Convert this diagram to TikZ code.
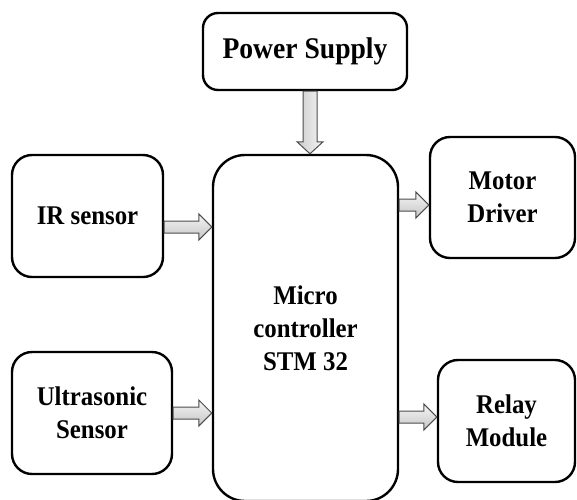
\documentclass[tikz,border=0pt]{standalone}
\usepackage{fontspec}
\setmainfont{Liberation Serif}[FakeStretch=0.92]
\usetikzlibrary{calc}
\tikzset{
  blk/.style={draw=black, line width=2.4pt, rounded corners=20pt, align=center,
    font=\bfseries\fontsize{27}{33}\selectfont, inner sep=0pt, fill=white},
  barrowstyle/.style={draw=gray!60!black, line width=1pt, line join=miter},
  hshade/.style={top color=gray!8, bottom color=gray!45},
  vshade/.style={left color=gray!40, right color=gray!8},
}
% horizontal block arrow from #1 to #2 (same y)
\newcommand{\harrow}[2]{%
  \path[barrowstyle,hshade] let \p1=#1, \p2=#2 in
    (\x1,\y1+6pt) -- (\x2-13pt,\y1+6pt) -- (\x2-13pt,\y1+13pt) -- (\x2,\y1)
    -- (\x2-13pt,\y1-13pt) -- (\x2-13pt,\y1-6pt) -- (\x1,\y1-6pt) -- cycle;}
% vertical block arrow downwards from #1 to #2 (same x)
\newcommand{\varrow}[2]{%
  \path[barrowstyle,vshade] let \p1=#1, \p2=#2 in
    (\x1-7pt,\y1) -- (\x1-7pt,\y2+12pt) -- (\x1-13pt,\y2+12pt) -- (\x1,\y2)
    -- (\x1+13pt,\y2+12pt) -- (\x1+7pt,\y2+12pt) -- (\x1+7pt,\y1) -- cycle;}
\begin{document}
\begin{tikzpicture}[x=1pt,y=-1pt]
\useasboundingbox (0,0) rectangle (577,499);
\node[blk, rounded corners=15pt, minimum width=204pt, minimum height=77pt,
  font=\bfseries\fontsize{30}{33}\selectfont] (ps) at (305,51.5) {Power Supply};
\node[blk, minimum width=151pt, minimum height=122pt] (ir) at (87.5,216) {IR sensor};
\node[blk, minimum width=160pt, minimum height=122pt] (us) at (92,413) {Ultrasonic\\Sensor};
\node[blk, rounded corners=32pt, minimum width=185pt, minimum height=346pt] (mc) at (305.5,328) {Micro\\controller\\STM 32};
\node[blk, minimum width=145pt, minimum height=121pt] (md) at (502.5,197.5) {Motor\\Driver};
\node[blk, minimum width=137pt, minimum height=122pt] (rm) at (506.5,421) {Relay\\Module};
\coordinate (xps) at (310,0);
\coordinate (yir) at (0,227);
\coordinate (yus) at (0,413);
\coordinate (ymd) at (0,205);
\coordinate (yrm) at (0,417);
\varrow{(ps.south -| xps)}{(mc.north -| xps)}
\harrow{(ir.east |- yir)}{(mc.west |- yir)}
\harrow{(us.east |- yus)}{(mc.west |- yus)}
\harrow{(mc.east |- ymd)}{(md.west |- ymd)}
\harrow{(mc.east |- yrm)}{(rm.west |- yrm)}
\end{tikzpicture}
\end{document}
